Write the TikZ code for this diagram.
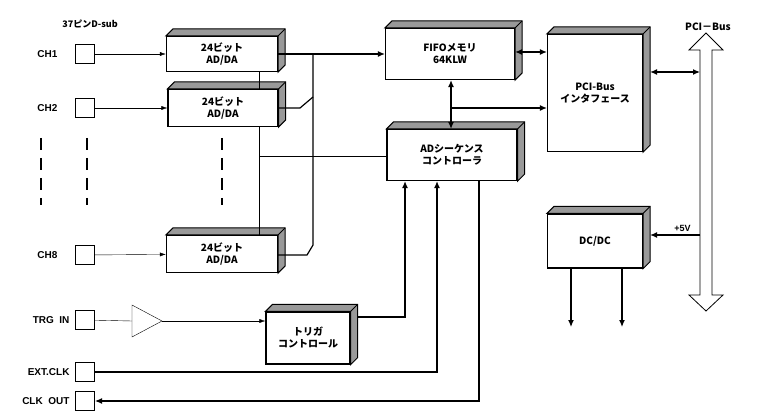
\documentclass[tikz,border=0pt]{standalone}
\usepackage{fontspec}
\setmainfont{Liberation Sans}
\newfontfamily\jp{Noto Sans CJK JP}
\usetikzlibrary{positioning,arrows.meta}
\tikzset{
  blk/.style={draw,line width=1.2pt,fill=white,align=center,font=\jp\bfseries\fontsize{10}{12}\selectfont,inner sep=0pt},
  term/.style={draw,line width=1pt,minimum size=19pt,inner sep=0pt},
  lbl/.style={font=\bfseries\fontsize{10}{12}\selectfont},
  sig/.style={-{Latex[length=6pt,width=4pt]}},
  bsig/.style={line width=1.2pt,-{Latex[length=7pt,width=6pt]}},
  bbsig/.style={line width=1.2pt,{Latex[length=7pt,width=6pt]}-{Latex[length=7pt,width=6pt]}},
}
\newcommand\depth[1]{%
  \fill[gray!80,draw=black,line width=1pt] (#1.north west) -- ++(7,-7) -- ([shift={(7,-7)}]#1.north east) -- ([shift={(7,-7)}]#1.south east) -- (#1.south east) -- (#1.north east) -- cycle;
  \draw[line width=1pt] (#1.north east) -- ++(7,-7);}
\begin{document}
\begin{tikzpicture}[x=1pt,y=-1pt]
\useasboundingbox (0,0) rectangle (759,419);
% blocks
\node[blk,minimum width=111pt,minimum height=35pt] (ad1) at (222,54) {24ビット\\AD/DA};
\node[blk,minimum width=110pt,minimum height=37pt] (ad2) at (223,108) {24ビット\\AD/DA};
\node[blk,minimum width=111pt,minimum height=37pt] (ad8) at (222,254) {24ビット\\AD/DA};
\node[blk,minimum width=129pt,minimum height=51pt] (fifo) at (450,54) {FIFOメモリ\\64KLW};
\node[blk,minimum width=130pt,minimum height=51pt] (seq) at (452,155) {ADシーケンス\\コントローラ};
\node[blk,minimum width=95pt,minimum height=117pt] (pci) at (595,93) {PCI-Bus\\インタフェース};
\node[blk,minimum width=84pt,minimum height=52pt] (trg) at (308,338) {トリガ\\コントロール};
\node[blk,minimum width=95pt,minimum height=54pt] (dcdc) at (595,241) {DC/DC};
\foreach \n in {ad1,ad2,ad8,fifo,seq,pci,trg,dcdc} {\depth{\n}}
% terminals
\node[term] (t1) at (85,54) {};
\node[term] (t2) at (85,108) {};
\node[term] (t8) at (85,255) {};
\node[term] (tt) at (85,320) {};
\node[term] (te) at (85,372) {};
\node[term] (tc) at (85,401) {};
\node[lbl,left=14pt of t1] {CH1};
\node[lbl,left=14pt of t2] {CH2};
\node[lbl,left=14pt of t8] {CH8};
\node[lbl,left=2pt of tt] {TRG\ \ IN};
\node[lbl,left=2pt of te] {EXT.CLK};
\node[lbl,left=2pt of tc] {CLK\ \ OUT};
\node[font=\jp\bfseries\fontsize{9}{11}\selectfont] (dsub) at (90,24) {37ピンD-sub};
% dashes
\foreach \x in {41,87,222} \draw[line width=1.5pt,dash pattern=on 12pt off 8pt] (\x,138) -- (\x,205);
% inputs
\draw[sig] (t1) -- (ad1);
\draw[sig] (t2) -- (ad2);
\draw[sig] (t8) -- (ad8);
\coordinate (bufin) at (132,321);
\coordinate (bufout) at (162,321);
\draw (bufin) -- (132,305) -- (bufout) -- (132,337) -- cycle;
\draw (tt) -- (bufin);
\draw[sig] (bufout) -- (trg.west |- bufout);
% data bus
\coordinate (bj) at (313,54);
\draw[bsig] (ad1) -- (fifo);
\draw[line width=1.2pt] (bj) -- (313,245) -- (307,255) -- (ad8.east |- 0,255);
\draw[line width=1.2pt] (ad2.east) -- (300,108) -- (313,97);
\draw (259,72) -- (259,90) (259,127) -- (259,236);
\draw (259,156) -- (seq.west |- 0,156);
% fifo / seq / pci
\draw[bbsig] (fifo.south -| 451,0) -- (seq.north -| 451,0);
\draw[bsig] (451,108) -- (pci.west |- 0,108);
\draw[bbsig] (fifo.east |- 0,52) -- (pci.west |- 0,52);
% pci bus
\draw[line width=0.8pt,fill=white] (700,295) -- (700,50) -- (689,50) -- (706,33) -- (723,50) -- (712,50) -- (712,295) -- (723,295) -- (706,311) -- (689,295) -- cycle;
\coordinate (bus1) at (700,72);
\coordinate (bus2) at (700,235);
\node[lbl,font=\jp\bfseries\fontsize{10}{12}\selectfont] (pcib) at (708,27) {PCI－Bus};
\draw[bbsig] ([xshift=7pt]pci.east |- 0,72) -- (bus1);
\draw[bsig] (bus2) -- node[above=-1pt,pos=.35,font=\bfseries\fontsize{9}{11}\selectfont] {+5V} ([xshift=7pt]dcdc.east |- 0,235);
\draw[bsig] (571,268) -- (571,327);
\draw[bsig] (622,268) -- (622,327);
% control
\draw[bsig] ([xshift=7pt]trg.east |- 0,317) -- (405,317) -- (seq.south -| 405,0);
\draw[bsig] (te) -- (437,372) -- (seq.south -| 437,0);
\draw[bsig] (seq.south -| 479,0) -- (479,401) -- (tc);
\end{tikzpicture}
\end{document}
